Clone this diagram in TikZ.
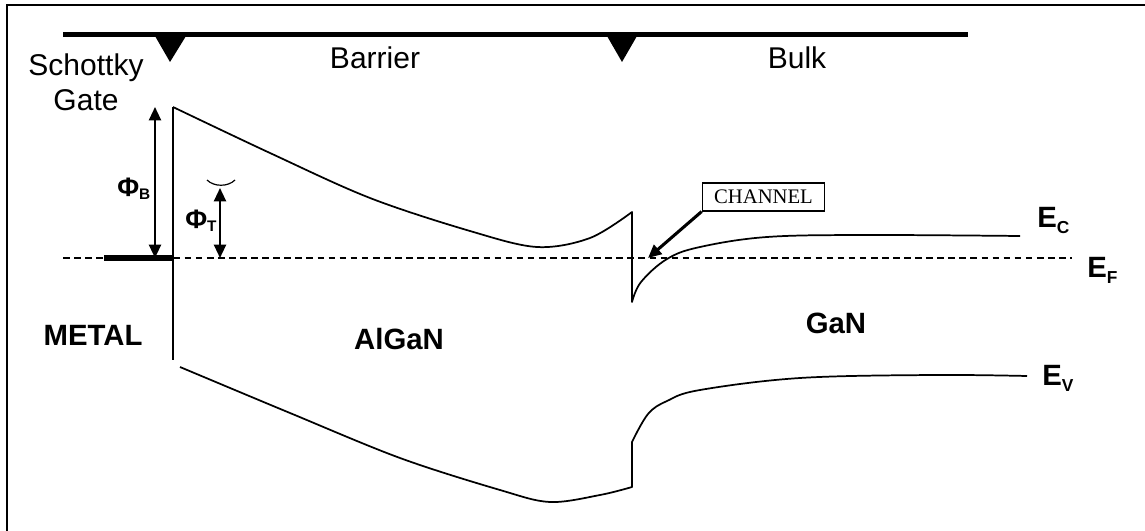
\documentclass[tikz,border=0pt]{standalone}
\usepackage{fontspec}
\setmainfont{Liberation Sans}
\newfontfamily\timesfont{Liberation Serif}
\usetikzlibrary{arrows.meta}

\newcommand{\bandlbl}[2]{#1{\fontsize{13}{13}\selectfont\raisebox{-4.5pt}{#2}}}
\newcommand{\philbl}[1]{{\fontsize{20}{20}\selectfont Φ}{\fontsize{11.5}{12}\selectfont\raisebox{-2.5pt}{#1}}}

\begin{document}
\begin{tikzpicture}[x=0.75pt, y=-0.75pt,
        txt/.style={font=\fontsize{22.5}{26}\selectfont, inner sep=0pt, anchor=base},
        bold/.style={font=\fontsize{22}{26}\selectfont\bfseries, inner sep=0pt, anchor=base},
        band/.style={line width=1.3pt, line join=round},
        dim/.style={line width=1.6pt, {Triangle[length=10pt,width=9pt]}-{Triangle[length=10pt,width=9pt]}}]
        \useasboundingbox (0,0) rectangle (1145,531);
        \clip (0,0) rectangle (1145,531);
        \draw[line width=1.5pt] (7,5) rectangle (1200,600);

        % regions on top
        \draw[line width=3.7pt] (63,34.5) -- (968,34.5);
        \fill (155,36) -- (186,36) -- (170,62) -- cycle;
        \fill (607,36) -- (637,36) -- (622,62) -- cycle;
        \node[txt] (schottky) at (86,76) {Schottky};
        \node[txt] (gate) at (86,111) {Gate};
        \node[txt] (barrier) at (375,69) {Barrier};
        \node[txt] (bulk) at (797,69) {Bulk};

        % fermi level and metal
        \draw[line width=1pt, dash pattern=on 5pt off 3.3pt] (63,258) -- (1072,258);
        \draw[line width=3.8pt] (104,258) -- (173,258);
        \draw[line width=1.8pt] (173,107) -- (173,360);

        % conduction band
        \draw[band] plot[smooth, tension=0.55] coordinates {(173,107) (270,153) (370,198) (470,231) (537,247) (590,238) (632,212)}
            -- plot[smooth, tension=0.6] coordinates {(632,302) (641,282) (667,259) (700,247) (767,237) (867,235) (1020,236)};
        % valence band
        \draw[band] plot[smooth, tension=0.55] coordinates {(180,367) (290,413) (400,458) (500,490) (550,502) (600,495) (632,487)}
            -- plot[smooth, tension=0.6] coordinates {(632,442) (648,414) (667,401) (700,390) (800,378) (933,375) (1027,376)};

        % barrier heights
        \coordinate (phibtop) at (155,107);
        \coordinate (phibbot) at (155,258);
        \coordinate (phittop) at (220,188);
        \coordinate (phitbot) at (220,258);
        \draw[dim] (phibtop) -- (phibbot);
        \draw[dim] (phittop) -- (phitbot);
        \draw[line width=0.9pt] (207,180) .. controls (214,187) and (228,187) .. (235,180);
        \node[bold, anchor=base west] (phib) at (117,196) {\philbl{B}};
        \node[bold, anchor=base west] (phit) at (185,228) {\philbl{T}};

        % channel
        \node[draw, line width=0.8pt, font=\timesfont\fontsize{15.5}{17}\selectfont, minimum width=92pt, minimum height=21pt, inner sep=0pt] (channel) at (763.5,197) {CHANNEL};
        \coordinate (chan) at (648,258);
        \draw[line width=2.3pt, -{Triangle[length=10pt,width=9pt]}] (channel.south west) -- (chan);

        % labels
        \node[bold, anchor=base west] (ec) at (1037,227) {\bandlbl{E}{C}};
        \node[bold, anchor=base west] (ef) at (1087,277) {\bandlbl{E}{F}};
        \node[bold, anchor=base west] (ev) at (1042,385) {\bandlbl{E}{V}};
        \node[bold] (metal) at (93,345) {METAL};
        \node[bold] (algan) at (399,349) {AlGaN};
        \node[bold] (gan) at (836,333) {GaN};
\end{tikzpicture}
\end{document}
